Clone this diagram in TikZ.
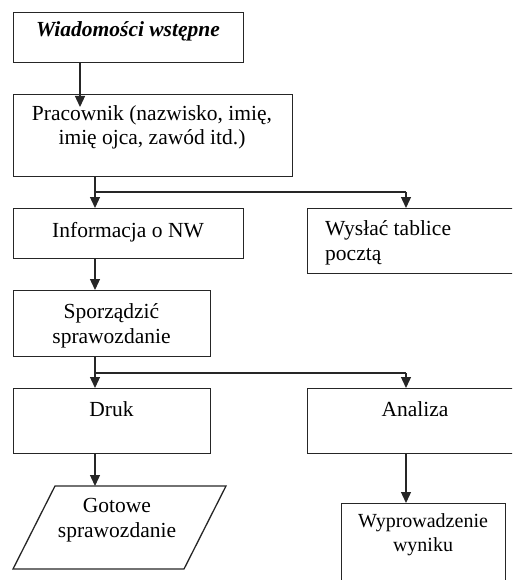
\documentclass[tikz,border=0pt]{standalone}
\usepackage{fontspec}
\setmainfont{Liberation Serif}
\usetikzlibrary{arrows.meta}
\tikzset{
  box/.style={draw=black!85, line width=1.3pt, rectangle, inner sep=0pt, anchor=north west},
  txt/.style={inner sep=0pt, anchor=base, font=\fontsize{21.5}{25}\selectfont},
  con/.style={draw=black!85, line width=1.3pt},
  arr/.style={con, -{Triangle[width=10pt,length=11pt]}},
}
\begin{document}
\begin{tikzpicture}[x=1pt,y=-1pt]
\useasboundingbox (0,0) rectangle (512,580);
\clip (0,0) rectangle (512,580);
% boxes
\node[box, minimum width=230, minimum height=50] (b1) at (13,12) {};
\node[box, minimum width=279, minimum height=82] (b2) at (13,94) {};
\node[box, minimum width=230, minimum height=50] (b3) at (13,208) {};
\node[box, minimum width=216, minimum height=65] (b4) at (307,208) {};
\node[box, minimum width=197, minimum height=66] (b5) at (13,290) {};
\node[box, minimum width=197, minimum height=65] (b6) at (13,388) {};
\node[box, minimum width=216, minimum height=65] (b7) at (307,388) {};
\node[box, minimum width=164, minimum height=110] (b9) at (341,503) {};
\coordinate (p1) at (55,486);
\coordinate (p2) at (226,486);
\coordinate (p3) at (184,569);
\coordinate (p4) at (13,569);
\draw[con] (p1) -- (p2) -- (p3) -- (p4) -- cycle;
\coordinate (p8) at (119.5,486);
% texts
\node[txt, font=\fontsize{21.5}{25}\selectfont\bfseries\itshape] (t1) at (128,37) {Wiadomości wstępne};
\node[txt, font=\fontsize{21.5}{24}\selectfont] (t2) at (152,121) {\begin{tabular}[t]{@{}c@{}}Pracownik (nazwisko, imię,\\ imię ojca, zawód itd.)\end{tabular}};
\node[txt] (t3) at (128,237) {Informacja o NW};
\node[txt, anchor=base west] (t4) at (325,235) {\begin{tabular}[t]{@{}l@{}}Wysłać tablice\\ pocztą\end{tabular}};
\node[txt] (t5) at (111.5,318) {\begin{tabular}[t]{@{}c@{}}Sporządzić\\ sprawozdanie\end{tabular}};
\node[txt] (t6) at (111.5,416) {Druk};
\node[txt] (t7) at (415,416) {Analiza};
\node[txt] (t8) at (117,512) {\begin{tabular}[t]{@{}c@{}}Gotowe\\ sprawozdanie\end{tabular}};
\node[txt, font=\fontsize{20}{24}\selectfont] (t9) at (423,527) {\begin{tabular}[t]{@{}c@{}}Wyprowadzenie\\ wyniku\end{tabular}};
% junctions
\coordinate (j0) at (80,107);
\coordinate (j1) at (95,192);
\coordinate (j1r) at (406,192);
\coordinate (j2) at (95,373);
\coordinate (j2r) at (406,373);
% connectors
\draw[arr] (b1.south -| j0) -- (j0);
\draw[con] (b2.south -| j1) -- (j1) -- (j1r);
\draw[arr] (j1) -- (b3.north -| j1);
\draw[arr] (j1r) -- (b4.north -| j1r);
\draw[arr] (b3.south -| j1) -- (b5.north -| j1);
\draw[con] (b5.south -| j2) -- (j2) -- (j2r);
\draw[arr] (j2) -- (b6.north -| j2);
\draw[arr] (j2r) -- (b7.north -| j2r);
\draw[arr] (b6.south -| j2) -- (p8 -| j2);
\draw[arr] (b7.south -| j2r) -- (b9.north -| j2r);
\end{tikzpicture}
\end{document}
